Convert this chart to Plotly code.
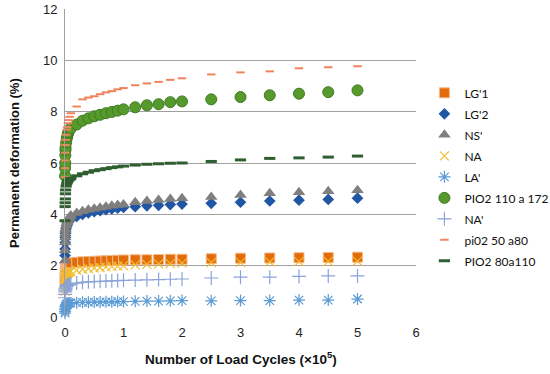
import plotly.graph_objects as go

# Load cycles (x 10^5)
cycles = [0.001, 0.002, 0.004, 0.006, 0.008, 0.01, 0.02, 0.03, 0.04, 0.05, 0.06, 0.08,
          0.1, 0.2, 0.3, 0.4, 0.5, 0.6, 0.7, 0.8, 0.9, 1.0,
          1.2, 1.4, 1.6, 1.8, 2.0, 2.5, 3.0, 3.5, 4.0, 4.5, 5.0]

lg1 = [1.35, 1.55, 1.7, 1.8, 1.88, 1.93, 2.0, 2.03, 2.05, 2.07, 2.08, 2.1,
       2.11, 2.13, 2.15, 2.16, 2.17, 2.18, 2.19, 2.2, 2.21, 2.22,
       2.23, 2.23, 2.24, 2.25, 2.25, 2.27, 2.29, 2.3, 2.31, 2.32, 2.33]
lg2 = [2.4, 2.65, 2.9, 3.1, 3.25, 3.35, 3.45, 3.55, 3.62, 3.68, 3.72, 3.78,
       3.82, 3.92, 4.0, 4.06, 4.1, 4.14, 4.18, 4.21, 4.24, 4.27,
       4.3, 4.33, 4.35, 4.38, 4.4, 4.43, 4.47, 4.52, 4.55, 4.58, 4.63]
ns = [2.2, 2.6, 2.9, 3.1, 3.25, 3.4, 3.55, 3.65, 3.72, 3.78, 3.83, 3.9,
      3.95, 4.05, 4.12, 4.18, 4.22, 4.26, 4.3, 4.33, 4.36, 4.38,
      4.47, 4.52, 4.56, 4.6, 4.63, 4.68, 4.75, 4.82, 4.86, 4.9, 4.94]
na = [1.0, 1.15, 1.3, 1.42, 1.5, 1.55, 1.62, 1.67, 1.7, 1.72, 1.74, 1.76,
      1.78, 1.82, 1.86, 1.89, 1.91, 1.93, 1.95, 1.97, 1.98, 2.0,
      2.03, 2.05, 2.07, 2.08, 2.1, 2.12, 2.13, 2.15, 2.16, 2.17, 2.18]
la = [0.15, 0.22, 0.3, 0.35, 0.4, 0.43, 0.47, 0.5, 0.51, 0.52, 0.53, 0.54,
      0.55, 0.56, 0.57, 0.57, 0.58, 0.58, 0.59, 0.59, 0.6, 0.6,
      0.61, 0.62, 0.62, 0.63, 0.64, 0.63, 0.64, 0.64, 0.66, 0.66, 0.7]
pio2_110 = [5.5, 5.8, 6.0, 6.3, 6.5, 6.6, 6.8, 6.95, 7.05, 7.15, 7.2, 7.3,
            7.35, 7.5, 7.65, 7.74, 7.82, 7.88, 7.94, 7.99, 8.04, 8.09,
            8.17, 8.25, 8.29, 8.37, 8.4, 8.48, 8.57, 8.64, 8.7, 8.76, 8.83]
na2 = [0.75, 0.88, 0.98, 1.05, 1.1, 1.13, 1.18, 1.21, 1.23, 1.25, 1.26, 1.28,
       1.29, 1.32, 1.35, 1.37, 1.38, 1.39, 1.4, 1.41, 1.42, 1.43,
       1.44, 1.45, 1.46, 1.47, 1.48, 1.52, 1.55, 1.55, 1.58, 1.6, 1.6]
pi02_50 = [5.45, 5.8, 6.1, 6.4, 6.7, 6.9, 7.1, 7.3, 7.4, 7.55, 7.67, 7.8,
           7.94, 8.2, 8.48, 8.55, 8.6, 8.68, 8.75, 8.8, 8.87, 8.92,
           9.03, 9.1, 9.16, 9.24, 9.3, 9.45, 9.53, 9.57, 9.69, 9.73, 9.77]
pio2_80 = [3.75, 4.3, 4.45, 4.6, 4.8, 4.95, 5.1, 5.2, 5.25, 5.3, 5.33, 5.36,
           5.4, 5.5, 5.58, 5.64, 5.7, 5.74, 5.78, 5.82, 5.85, 5.88,
           5.92, 5.95, 5.97, 5.99, 6.0, 6.06, 6.12, 6.18, 6.2, 6.23, 6.27]

x_ticks = [0, 1, 2, 3, 4, 5, 6]
y_ticks = [0, 2, 4, 6, 8, 10, 12]

series = [
    ("LG'1", lg1, dict(symbol="square", size=10, color="#E36C0A", line=dict(color="#F6B98A", width=1))),
    ("LG'2", lg2, dict(symbol="diamond", size=9, color="#2156A5", line=dict(color="#2156A5", width=0))),
    ("NS'", ns, dict(symbol="triangle-up", size=11, color="#7F7F7F", line=dict(color="#7F7F7F", width=0))),
    ("NA", na, dict(symbol="x-thin-open", size=9, color="#F2BE2E", line=dict(color="#F2BE2E", width=1.2))),
    ("LA'", la, dict(symbol="asterisk-open", size=10, color="#5B9BD5", line=dict(color="#5B9BD5", width=1.2))),
    ("PIO2 110 a 172", pio2_110, dict(symbol="circle", size=11, color="#569A2C", line=dict(color="#3F7A22", width=1))),
    ("NA'", na2, dict(symbol="cross-thin-open", size=10, color="#8AA3DA", line=dict(color="#8AA3DA", width=1.2))),
    ("pi02 50 a80", pi02_50, dict(symbol="line-ew-open", size=6, color="#F0835C", line=dict(color="#F0835C", width=2))),
    ("PIO2 80a110", pio2_80, dict(symbol="line-ew-open", size=8, color="#2F5E30", line=dict(color="#2F5E30", width=3))),
]

fig = go.Figure()
for i, (name, vals, mk) in enumerate(series):
    fig.add_trace(go.Scatter(x=cycles, y=vals, mode="markers", name=name, marker=mk,
                             cliponaxis=False, legendgroup=f"g{i}"))

axis_font = dict(family="Liberation Sans, Arial, sans-serif", size=13, color="#222222")
title_font = dict(family="Liberation Sans, Arial, sans-serif", size=13.5, color="#111111")
fig.update_layout(
    width=550, height=374,
    margin=dict(l=65, r=134, t=9, b=57, autoexpand=False),
    paper_bgcolor="white", plot_bgcolor="white",
    showlegend=True,
    legend=dict(x=1.024, xanchor="left", y=0.455, yanchor="middle",
                font=dict(family="Lato, sans-serif", size=12, color="#111111"),
                tracegroupgap=2, itemwidth=30, bgcolor="rgba(0,0,0,0)"),
    xaxis=dict(range=[0, 6], tickvals=x_ticks, ticktext=[str(v) for v in x_ticks],
               showgrid=False, zeroline=False, showline=False, ticks="",
               tickfont=axis_font, ticklabelstandoff=6, automargin=False),
    yaxis=dict(range=[0, 12], tickvals=y_ticks, ticktext=[str(v) for v in y_ticks],
               showgrid=True, gridcolor="#A0A0A0", gridwidth=1, zeroline=False,
               showline=True, linecolor="#A0A0A0", linewidth=1, ticks="",
               tickfont=axis_font, ticklabelstandoff=4, automargin=False),
    annotations=[
        dict(text="<b>Number of Load Cycles (×10<sup>5</sup>)</b>", xref="paper", yref="paper",
             x=0.5, y=0, xanchor="center", yanchor="middle", yshift=-41,
             showarrow=False, font=title_font),
        dict(text="<b>Permanent deformation (%)</b>", xref="paper", yref="paper",
             x=0, y=0.5, xanchor="center", yanchor="middle", xshift=-51, textangle=-90,
             showarrow=False, font=dict(family="Liberation Sans, Arial, sans-serif", size=13, color="#111111")),
    ],
)

fig.write_html("out.html", config={"displayModeBar": False},
               post_script="document.body.style.margin='0';")
